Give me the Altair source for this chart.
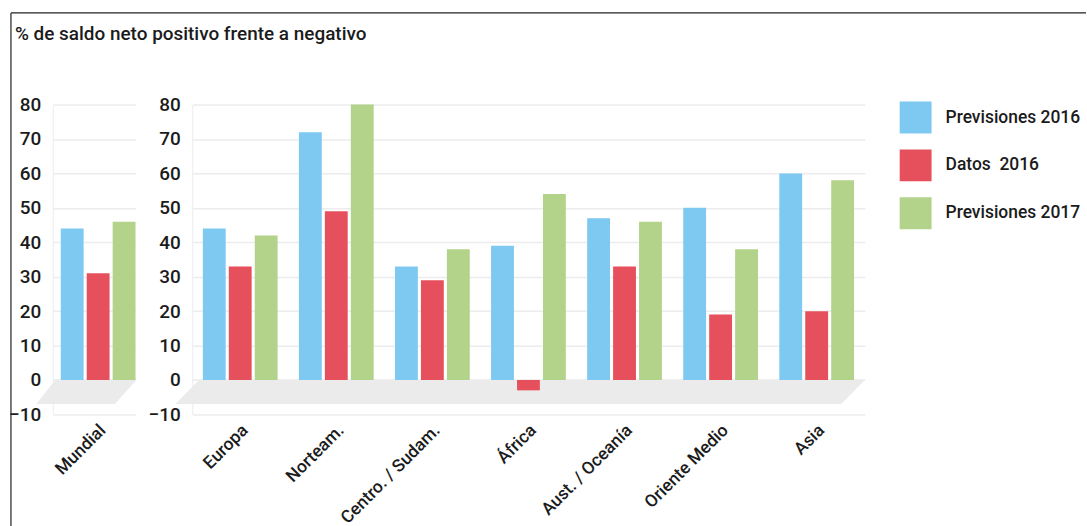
import altair as alt
import pandas as pd

# ---- values -------------------------------------------------------------
title_text = "% de saldo neto positivo frente a negativo"
series = ["Previsiones 2016", "Datos \u00a02016", "Previsiones 2017"]
colors = ["#7dc9f1", "#e6505c", "#b3d28a"]

regions = ["Europa", "Norteam.", "Centro. / Sudam.", "África",
           "Aust. / Oceanía", "Oriente Medio", "Asia"]
prev_2016 = [44, 72, 33, 39, 47, 50, 60]
datos_2016 = [33, 49, 29, -3, 33, 19, 20]
prev_2017 = [42, 80, 38, 54, 46, 38, 58]

world = ["Mundial"]
world_prev_2016 = [44]
world_datos_2016 = [31]
world_prev_2017 = [46]

y_ticks = list(range(-10, 81, 10))

# shaded "floor" under the bars: parallelogram corners as fractions of panel width
floor_depth = -7
floor_main_x = [-0.025, 0.01, 0.965, 1.0]
floor_left_x = [-0.2, 0.03, 0.75, 1.01]

FONT = "Roboto"
TEXT = "#1b1b1b"
GRID = "#ececec"
FLOOR = "#ebebeb"


def long_table(cats, a, b, c):
    rows = []
    for i, cat in enumerate(cats):
        for s, vals in zip(series, (a, b, c)):
            rows.append({"cat": cat, "serie": s, "valor": vals[i]})
    return pd.DataFrame(rows)


def floor_table(xs):
    return pd.DataFrame({
        "fx": xs,
        "top": [floor_depth, 0, 0, 0],
        "bottom": [floor_depth, floor_depth, floor_depth, 0],
    })


y_scale = alt.Scale(domain=[-10, 80], nice=False, zero=False)
y_axis = alt.Axis(values=y_ticks, title=None, grid=True, ticks=False,
                  domain=True, domainColor=GRID, gridColor=GRID, gridWidth=1.5,
                  labelPadding=12, labelFontSize=19)

color_enc = alt.Color(
    "serie:N", sort=series,
    scale=alt.Scale(domain=series, range=colors),
    legend=alt.Legend(orient="none", legendX=850, legendY=-3, title=None,
                      symbolType="square", symbolSize=1024, symbolStrokeWidth=0,
                      symbolOpacity=1, labelFontSize=17.5, labelFont=FONT,
                      labelFontWeight=500, labelColor=TEXT, labelOffset=14,
                      rowPadding=16),
)


def floor_layer(xs):
    return alt.Chart(floor_table(xs)).mark_area(color=FLOOR, clip=False).encode(
        x=alt.X("fx:Q", scale=alt.Scale(domain=[0, 1], nice=False, zero=False), axis=None),
        y=alt.Y("top:Q", scale=y_scale, axis=y_axis),
        y2="bottom:Q",
    )


def bar_layer(df, cats, x_scale):
    return alt.Chart(df).mark_bar().encode(
        x=alt.X("cat:N", sort=cats, scale=x_scale,
                axis=alt.Axis(title=None, labelAngle=315, labelAlign="right",
                              labelBaseline="middle", ticks=False, domain=False,
                              grid=False, labelPadding=13, labelOffset=5,
                              labelFontSize=17.5)),
        xOffset=alt.XOffset("serie:N", sort=series,
                            scale=alt.Scale(paddingInner=0.12, paddingOuter=0)),
        y=alt.Y("valor:Q", scale=y_scale, axis=y_axis),
        color=color_enc,
    )


world_df = long_table(world, world_prev_2016, world_datos_2016, world_prev_2017)
region_df = long_table(regions, prev_2016, datos_2016, prev_2017)

# frame lines and heading, placed relative to the left panel
one = pd.DataFrame({"t": [title_text]})
frame_left = alt.Chart(one).mark_rule(color="#222", strokeWidth=1.2).encode(
    x=alt.value(-42), y=alt.value(-92), y2=alt.value(423))
frame_top = alt.Chart(one).mark_rule(color="#222", strokeWidth=1.2).encode(
    x=alt.value(-42), x2=alt.value(1037), y=alt.value(-92))
heading = alt.Chart(one).mark_text(
    align="left", baseline="alphabetic", font=FONT, fontSize=19,
    fontWeight=500, color=TEXT).encode(
    text="t:N", x=alt.value(-38), y=alt.value(-65))

left = alt.layer(
    floor_layer(floor_left_x),
    bar_layer(world_df, world,
              alt.Scale(paddingInner=0, paddingOuter=0.0533, align=1)),
    frame_left, frame_top, heading,
).resolve_scale(x="independent").properties(width=83, height=311)

main = alt.layer(
    floor_layer(floor_main_x),
    bar_layer(region_df, regions, alt.Scale(paddingInner=0.22, paddingOuter=0.11)),
).resolve_scale(x="independent").properties(width=675, height=311)

chart = alt.hconcat(left, main, spacing=57, bounds="flush").properties(
    padding={"left": 8, "top": 11, "right": 0, "bottom": 0},
    background="white",
).configure_view(stroke=None).configure_axis(
    labelFont=FONT, labelColor=TEXT, labelFontWeight=500,
)

chart.save("out.html", embed_options={"renderer": "svg", "actions": False})
